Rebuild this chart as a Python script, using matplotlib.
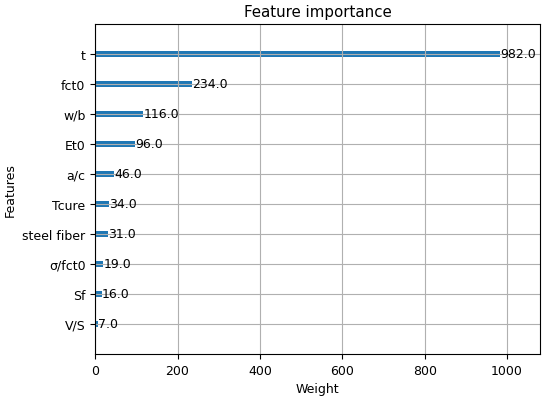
import matplotlib
matplotlib.use("Agg")
import matplotlib.pyplot as plt

plt.rcParams["font.size"] = 9

# feature importance (weight), bottom to top
features = ["V/S", "Sf", "σ/fct0", "steel fiber", "Tcure", "a/c", "Et0", "w/b", "fct0", "t"]
weights = [7.0, 16.0, 19.0, 31.0, 34.0, 46.0, 96.0, 116.0, 234.0, 982.0]

fig = plt.figure(figsize=(5.5, 4.02), dpi=100)
ax = fig.add_axes([0.173, 0.117, 0.809, 0.821])

ylocs = range(len(features))
ax.barh(ylocs, weights, align="center", height=0.2)

for x, y in zip(weights, ylocs):
    ax.text(x + 1, y, x, va="center")

ax.set_yticks(list(ylocs))
ax.set_yticklabels(features)
ax.set_xlim(0, max(weights) * 1.1)
ax.set_ylim(-1, len(features))
ax.set_title("Feature importance")
ax.set_xlabel("Weight")
ax.set_ylabel("Features")
ax.grid(True)

fig.savefig("out.png", dpi=100)
